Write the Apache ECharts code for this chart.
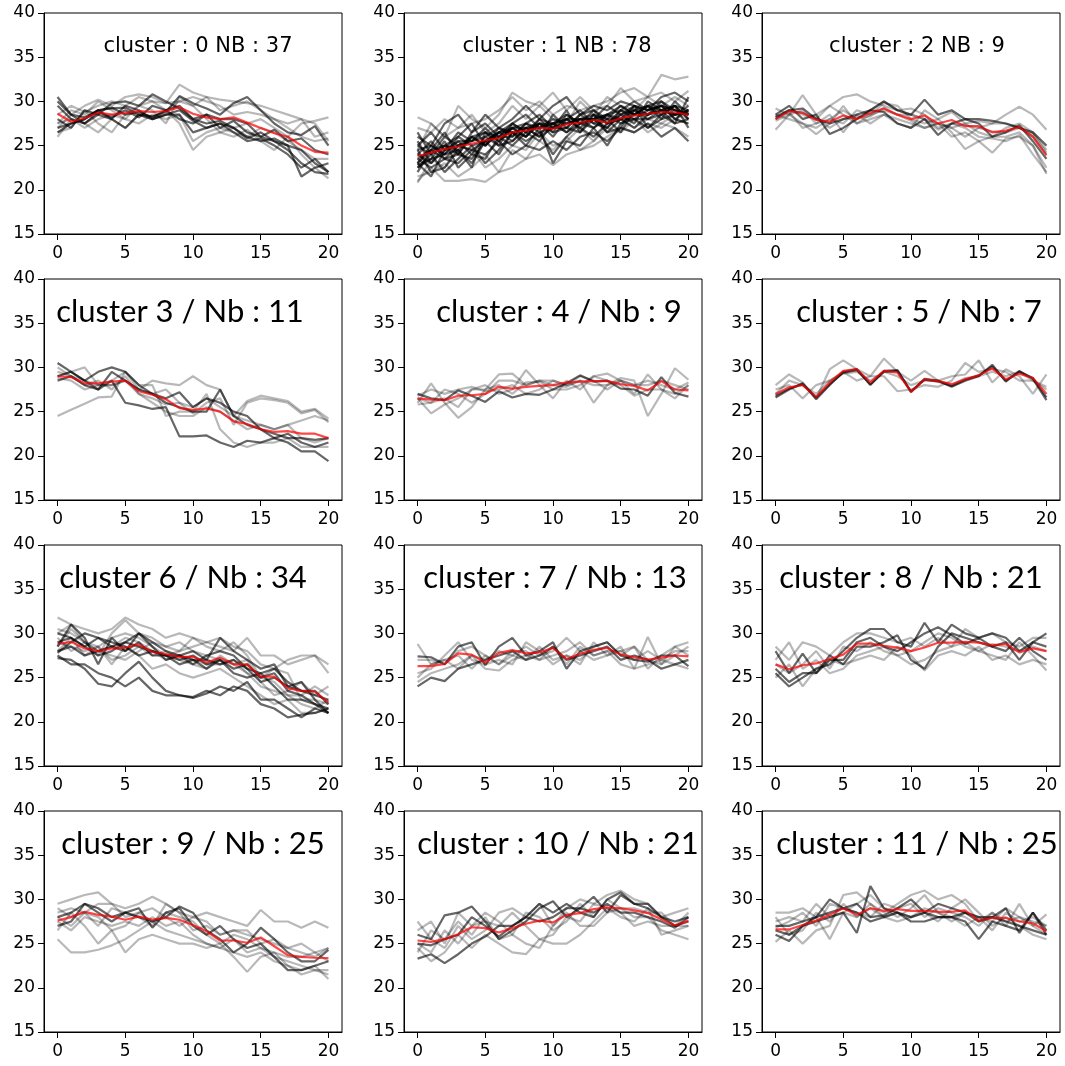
<!DOCTYPE html>
<html><head><meta charset="utf-8">
<script src="https://cdn.jsdelivr.net/npm/echarts@6/dist/echarts.min.js"></script>
<style>html,body{margin:0;padding:0;background:#fff}#c{width:1065px;height:1066px}</style>
</head><body><div id="c"></div>
<script>
// ---------- data ----------
const xTicks = [0, 5, 10, 15, 20];
const yTicks = [15, 20, 25, 30, 35, 40];
const titles = [
  "cluster : 0 NB : 37", "cluster : 1 NB : 78", "cluster : 2 NB : 9",
  "cluster 3 / Nb : 11", "cluster : 4 / Nb : 9", "cluster : 5 / Nb : 7",
  "cluster 6 / Nb : 34", "cluster : 7 / Nb : 13", "cluster : 8 / Nb : 21",
  "cluster : 9 / Nb : 25", "cluster : 10 / Nb : 21", "cluster : 11 / Nb : 25"
];

const mean0 = [28.6,27.7,28.1,28.75,28.5,28.7,28.9,28.8,28.9,29.35,28.6,28.2,28.0,28.2,27.6,27.0,26.4,26.0,25.0,24.3,24.2];
const lines0 = [
  [30.5,28.5,28.2,29.0,29.2,29.3,28.5,28.3,28.8,30.6,29.8,29.2,28.5,29.8,30.5,29.0,27.5,26.5,26.2,27.2,25.0],
  [26.5,27.5,28.0,29.0,29.3,28.5,28.8,28.2,29.0,29.5,28.0,27.5,27.8,27.0,25.8,26.5,25.5,24.5,23.0,22.0,21.8],
  [29.5,28.0,27.5,28.5,28.0,29.5,29.0,28.0,28.5,28.5,26.5,27.0,27.5,27.0,26.0,25.5,25.8,25.0,21.5,22.5,23.0],
  [28.0,27.0,29.0,28.5,29.8,30.0,29.5,30.8,30.0,29.2,28.0,28.5,27.0,27.8,26.5,26.0,25.5,25.0,24.5,23.0,22.0],
  [30.0,28.5,27.5,28.8,28.2,29.0,28.2,29.5,29.0,28.0,27.5,28.5,28.0,28.0,27.5,26.0,26.8,25.5,25.8,24.5,24.0],
  [27.0,27.5,28.0,29.0,28.0,27.0,28.5,28.0,28.5,29.0,27.8,27.0,27.5,26.5,25.5,25.8,25.0,24.0,22.5,23.5,22.0],
  [27.0,28.5,29.5,30.2,29.5,30.5,30.8,30.5,29.8,31.9,31.0,30.5,30.2,30.0,29.8,29.5,29.0,28.5,28.0,27.5,25.5],
  [26.0,28.0,27.5,26.5,28.0,27.0,28.5,28.0,29.0,27.5,24.5,26.0,26.5,27.0,27.5,28.0,27.0,26.0,27.5,27.8,28.2],
  [27.5,29.0,28.5,30.0,29.0,28.0,29.5,29.0,27.5,30.5,29.5,28.0,26.5,26.0,26.8,25.5,24.5,26.0,24.0,22.5,21.3],
  [26.5,27.0,29.0,27.5,26.5,28.5,29.5,30.0,29.0,30.0,30.5,30.0,29.5,28.5,28.8,28.5,28.0,27.0,26.0,25.5,25.8],
  [28.5,29.5,28.8,29.5,30.0,29.5,30.5,30.0,29.8,30.0,29.5,30.5,29.0,29.5,30.0,29.0,28.0,27.5,28.0,26.0,26.5],
  [27.5,28.0,27.0,28.0,28.5,28.0,27.5,28.5,28.0,28.5,25.5,26.5,27.0,26.5,26.0,27.0,26.5,25.5,24.5,23.5,23.5]
];

const mean1 = [23.8,24.2,24.6,24.9,25.2,25.6,25.85,26.5,26.7,27.0,26.9,27.4,27.6,27.9,27.6,28.1,28.4,28.6,28.8,28.75,28.5];
const lines1 = [
  [24.0,23.0,24.5,25.0,25.5,26.0,27.0,26.5,27.0,27.5,27.0,27.5,28.0,28.5,27.5,28.5,29.5,29.0,29.5,29.0,28.5],
  [23.5,24.5,25.0,24.5,26.0,26.5,25.5,27.0,27.5,27.0,28.0,27.5,28.0,28.0,28.5,29.0,28.5,29.5,29.0,29.5,29.0],
  [24.5,25.0,24.0,26.0,25.0,25.5,26.5,27.5,26.5,28.0,26.5,28.5,27.5,29.0,27.5,28.0,29.0,29.5,30.0,28.5,29.0],
  [22.5,23.5,24.0,25.5,25.5,26.5,26.0,26.0,27.5,26.5,27.0,27.0,28.5,27.5,27.0,28.5,29.0,28.0,28.5,29.5,28.0],
  [25.0,24.0,26.0,25.0,24.5,25.5,26.0,27.0,27.0,27.0,27.5,28.0,27.0,28.5,28.0,28.0,28.0,29.0,29.5,29.0,28.5],
  [23.0,24.5,23.5,24.0,26.0,25.0,26.5,26.5,26.0,27.5,27.5,26.5,28.0,28.0,28.5,29.5,28.5,28.5,29.0,28.5,29.5],
  [22.5,24.0,22.0,23.5,25.0,23.0,24.5,26.5,25.0,27.0,23.0,25.5,25.0,27.0,25.0,27.5,28.0,27.0,28.5,27.5,28.0],
  [25.5,23.0,25.0,24.0,26.5,27.5,26.0,27.5,28.5,27.0,27.5,28.5,27.5,28.0,27.0,29.0,30.0,29.0,29.5,28.0,29.0],
  [23.0,21.5,24.5,25.5,24.0,26.0,25.0,25.5,27.0,26.0,28.5,27.0,26.5,28.5,26.5,28.0,27.0,28.5,29.0,29.5,28.0],
  [24.0,25.5,23.5,25.0,26.0,25.0,27.0,26.0,27.5,28.5,27.0,28.0,29.0,27.5,28.5,28.0,29.5,28.5,30.0,29.0,28.5],
  [22.0,24.5,26.5,24.0,23.5,25.5,26.5,27.0,26.0,27.5,26.5,27.0,28.5,29.0,28.0,29.5,28.5,29.5,28.5,29.5,27.0],
  [25.0,26.5,24.5,26.5,25.5,27.0,25.5,27.0,26.0,28.0,27.5,26.5,27.5,27.0,28.5,27.5,28.5,29.5,28.0,28.5,29.0],
  [22.8,23.5,25.5,22.5,24.0,23.5,26.0,25.0,26.5,25.5,27.5,28.0,27.0,26.0,27.5,29.0,28.0,28.0,29.0,28.5,28.8],
  [23.0,25.0,24.0,24.5,22.5,26.5,25.0,27.5,26.5,27.5,26.0,28.0,28.0,27.0,28.0,26.5,29.0,28.5,29.5,28.0,27.5],
  [24.5,22.0,22.5,24.5,23.0,25.5,24.0,26.5,25.5,26.5,24.0,26.0,27.5,28.0,26.5,27.0,29.5,27.0,28.0,30.0,28.5],
  [26.5,24.0,25.0,26.0,27.5,25.0,26.5,25.5,27.0,26.0,27.0,29.0,26.5,28.0,29.5,28.5,27.5,30.0,29.0,27.5,30.5],
  [26.0,25.0,27.5,28.5,26.5,28.5,27.0,28.0,29.5,28.0,29.5,30.5,28.5,29.5,29.0,30.0,29.5,29.0,30.5,31.0,30.0],
  [23.5,22.5,23.5,23.0,24.5,24.0,25.5,24.0,25.0,24.5,25.5,24.5,26.0,26.5,25.5,27.0,26.5,27.5,26.0,27.0,25.5],
  [20.8,23.5,22.5,25.0,24.5,22.5,23.5,25.0,24.5,26.5,25.0,25.5,27.0,25.5,27.5,28.0,27.0,28.0,27.5,28.5,28.0],
  [21.0,22.5,21.0,21.0,21.2,20.9,22.0,22.5,23.5,24.0,22.8,24.0,24.5,25.0,26.0,27.0,26.5,27.5,27.0,28.0,27.5],
  [28.2,27.5,26.0,27.0,27.5,28.0,29.0,30.5,29.0,30.0,28.5,29.5,29.0,29.5,30.0,31.0,31.5,30.5,33.0,32.5,32.8],
  [24.5,27.5,26.0,29.5,28.0,27.0,28.5,31.0,30.0,29.5,31.0,29.0,30.5,29.0,29.5,31.5,30.0,30.5,31.0,30.0,31.2],
  [27.0,26.5,28.0,27.0,28.5,26.5,27.5,29.5,28.0,29.5,28.0,27.5,30.0,28.5,30.5,29.5,29.0,30.5,29.5,30.5,29.5],
  [21.5,22.0,23.0,21.5,22.5,24.0,22.0,24.5,23.5,25.5,24.5,26.0,24.5,25.5,27.0,26.5,28.0,26.5,27.5,27.0,26.0]
];

const mean2 = [28.0,28.9,28.7,27.9,27.7,28.4,28.0,28.7,29.2,28.5,28.0,28.4,27.5,27.9,27.2,27.2,26.5,26.7,27.1,26.0,23.9];
const lines2 = [
  [28.2,29.0,29.2,28.0,27.5,28.0,28.5,29.0,30.0,29.0,28.5,30.2,28.5,29.0,28.0,28.0,27.8,27.5,27.0,26.5,25.0],
  [28.5,29.5,28.0,28.5,26.3,27.0,28.0,29.0,28.8,27.5,27.0,28.0,26.2,27.5,28.0,27.5,26.0,26.5,27.3,25.5,23.5],
  [26.8,28.5,30.7,28.5,29.5,30.5,30.8,30.0,29.5,29.0,28.5,28.0,27.5,27.0,26.0,27.0,27.5,28.5,29.4,28.5,26.8],
  [29.2,28.5,27.5,26.3,27.5,29.5,27.5,28.5,29.8,29.5,28.0,27.5,28.0,26.5,24.6,25.5,24.2,25.8,26.0,25.0,21.8],
  [28.0,28.8,27.0,27.5,28.5,26.5,28.5,27.5,28.5,28.0,27.5,27.0,27.5,26.0,26.5,25.5,26.0,26.0,26.5,25.0,22.5],
  [28.5,28.0,27.5,27.0,28.0,29.0,28.0,29.0,30.0,29.0,29.2,28.5,27.0,27.5,27.0,26.0,25.8,25.5,26.2,24.0,22.0],
  [28.0,29.0,28.5,28.0,29.5,28.5,27.5,28.0,28.5,27.5,27.0,29.0,28.0,28.8,27.5,27.8,27.5,27.5,27.0,26.0,24.0],
  [27.8,28.5,29.0,27.5,28.0,27.5,29.0,28.5,29.0,28.5,27.8,27.0,27.5,27.0,27.5,26.5,26.0,27.0,27.5,26.5,24.5],
  [28.3,29.0,28.7,28.2,27.0,28.0,28.2,28.3,29.3,28.5,28.5,28.0,26.8,27.5,27.3,27.0,26.6,26.5,27.0,26.3,24.2]
];

const mean3 = [29.0,28.9,28.2,28.2,28.4,28.5,27.3,26.9,26.4,25.4,25.2,25.35,25.0,23.9,23.6,23.0,22.7,22.8,22.5,22.5,22.0];
const lines3 = [
  [30.5,29.5,28.5,29.5,30.0,29.5,28.0,27.0,26.5,27.2,25.5,26.5,26.0,25.0,24.5,23.0,22.5,22.0,22.0,21.8,22.0],
  [29.0,29.5,28.5,27.5,28.5,26.0,25.7,25.3,25.5,22.2,22.2,22.3,21.5,21.0,21.7,21.5,22.0,21.5,20.5,20.5,19.4],
  [28.5,29.0,28.0,27.5,29.5,28.5,27.5,27.0,26.0,25.5,25.0,25.0,27.5,24.5,23.5,23.0,22.0,22.5,21.5,21.0,21.5],
  [24.5,25.2,25.9,26.6,26.7,29.5,27.5,28.5,28.2,28.0,29.0,28.0,27.5,24.5,26.2,26.8,26.5,26.2,25.0,25.3,24.2],
  [29.0,29.5,30.0,28.0,28.5,29.5,28.0,28.0,24.5,25.0,25.0,27.0,23.0,21.5,21.0,21.5,21.5,22.0,21.0,21.0,21.0],
  [30.0,29.0,28.0,28.5,27.5,29.0,27.0,26.5,25.8,26.0,25.5,26.5,25.5,24.5,24.0,23.5,23.0,23.5,24.0,24.5,24.0],
  [28.8,28.5,27.5,28.0,28.0,28.5,27.5,27.0,27.5,26.0,24.8,26.0,26.5,23.5,26.0,26.5,26.3,26.0,24.8,25.2,23.8],
  [29.5,29.0,28.5,28.0,28.0,28.5,27.0,26.0,25.0,24.5,24.5,25.5,25.0,24.0,23.0,23.5,23.0,23.5,22.0,21.5,22.0]
];

const mean4 = [26.5,26.35,26.3,26.8,26.85,27.0,27.8,27.6,27.8,27.9,28.0,28.3,28.4,28.45,28.45,28.1,27.9,27.4,28.45,27.5,27.4];
const lines4 = [
  [27.0,26.5,26.3,27.4,26.8,26.1,27.3,26.6,27.0,26.9,27.5,28.2,29.1,28.4,28.5,27.6,27.5,26.8,28.9,27.1,26.7],
  [26.0,28.2,26.0,24.3,25.5,27.5,29.2,29.3,28.0,28.5,28.5,28.0,28.5,26.0,28.0,28.8,28.5,24.5,27.0,29.9,28.6],
  [26.5,24.8,25.8,26.5,27.5,28.0,27.0,27.5,29.7,28.0,26.5,28.5,27.5,29.0,29.3,28.5,27.0,29.2,27.5,26.5,28.0],
  [25.8,26.0,27.5,27.0,26.0,27.0,28.5,28.5,28.0,28.5,28.0,27.8,28.5,28.0,28.0,28.5,28.0,28.0,28.5,28.0,27.5],
  [26.5,26.0,26.5,25.5,27.5,27.5,28.0,27.0,28.3,28.4,27.5,27.5,28.0,29.0,28.5,28.0,26.8,27.5,27.5,27.0,28.0],
  [26.8,27.5,27.0,27.5,27.8,27.3,27.5,28.0,27.0,27.5,28.5,28.0,29.0,28.5,27.5,28.5,28.0,28.5,28.0,27.5,28.3]
];

const mean5 = [27.0,27.75,28.0,26.65,28.3,29.6,29.8,28.3,29.6,29.4,27.25,28.65,28.45,28.1,28.65,29.1,29.9,28.65,29.3,28.8,27.0];
const lines5 = [
  [26.6,27.5,28.2,26.4,28.0,29.5,29.8,28.0,29.6,29.7,27.2,28.7,28.5,27.8,28.5,29.0,30.3,28.4,29.6,28.7,26.3],
  [26.8,27.6,28.1,26.6,28.1,29.4,29.7,28.1,29.5,29.6,27.3,28.6,28.4,27.9,28.6,29.1,30.1,28.5,29.5,28.8,26.6],
  [28.0,29.2,28.3,26.5,29.8,30.8,29.8,29.0,31.0,29.5,28.5,29.6,28.5,29.0,29.2,30.8,28.3,29.8,29.0,27.0,29.2],
  [27.5,28.0,26.5,28.0,28.5,29.5,28.5,29.0,29.0,27.3,27.5,28.0,27.8,28.5,30.5,29.5,29.8,29.5,28.5,28.5,27.5],
  [27.0,28.5,28.0,27.0,28.5,29.3,29.5,28.5,29.5,29.0,28.0,28.5,28.5,28.0,28.8,29.0,29.5,29.0,29.5,28.5,27.8]
];

const mean6 = [28.8,29.05,28.3,28.0,28.3,28.4,28.75,27.9,27.65,27.35,27.35,26.7,27.25,26.5,26.5,25.1,25.1,23.8,23.5,23.4,22.2];
const lines6 = [
  [28.0,28.5,27.5,28.0,28.5,28.0,29.0,27.5,27.5,27.0,27.5,26.5,27.0,26.0,26.5,25.0,25.5,23.5,23.0,22.0,21.5],
  [29.0,29.5,28.5,27.5,28.0,29.0,28.5,28.0,27.5,27.5,27.0,27.0,26.5,27.0,26.0,24.5,25.0,24.0,23.5,23.5,22.0],
  [27.2,27.0,26.0,24.3,24.0,25.5,26.8,25.0,23.5,23.0,22.7,23.2,24.0,23.5,24.5,22.5,22.5,21.5,20.5,21.5,21.0],
  [27.5,26.5,26.5,25.5,25.0,24.0,25.0,23.5,23.0,23.0,22.8,23.5,23.0,24.0,23.5,22.0,21.5,20.5,20.8,21.0,21.5],
  [28.5,31.0,29.5,26.5,29.5,28.0,30.0,29.0,28.0,27.5,28.0,27.0,29.5,28.0,27.0,26.0,26.5,24.0,24.5,22.5,21.0],
  [30.0,29.5,28.5,29.5,29.0,28.5,27.5,28.0,27.5,26.5,27.0,26.0,27.0,25.5,25.0,25.5,24.0,22.5,22.5,22.0,21.0],
  [27.8,29.0,30.0,29.5,28.5,29.0,30.0,28.5,27.0,27.5,26.5,27.5,28.0,27.5,26.0,25.5,26.0,24.5,23.5,23.0,22.5],
  [31.8,31.0,29.0,27.5,30.0,31.5,30.0,29.5,28.5,28.0,28.5,29.0,29.5,28.5,28.0,26.5,26.0,27.0,27.5,27.5,26.5],
  [30.5,30.0,29.0,28.5,29.5,30.0,29.5,28.5,27.5,28.0,29.5,28.5,28.0,29.0,27.5,25.0,26.0,25.5,22.5,22.5,22.0],
  [29.0,28.5,28.0,28.5,27.0,27.5,28.5,27.5,28.0,27.0,26.5,26.0,27.5,26.5,25.5,24.0,23.5,23.0,23.0,24.0,23.0],
  [30.0,31.0,30.5,30.0,30.5,31.8,31.0,30.5,29.5,30.0,29.5,29.0,28.5,28.0,29.5,27.5,27.5,26.5,27.0,27.5,25.5],
  [28.0,29.5,27.5,28.5,26.5,28.5,27.5,26.0,26.5,25.5,25.0,25.5,26.0,25.0,24.0,23.0,22.0,22.5,21.0,21.0,21.5],
  [29.5,28.0,29.0,28.0,27.5,27.0,28.0,29.0,28.5,29.0,28.0,27.5,27.0,26.5,27.0,24.5,23.0,23.5,24.5,23.0,24.0],
  [28.5,30.5,29.0,28.0,28.5,29.5,29.0,28.0,27.0,27.5,27.0,26.5,26.5,27.0,25.5,25.0,24.5,23.0,22.0,21.5,22.5]
];

const mean7 = [26.3,26.3,26.55,27.75,27.6,26.7,27.8,28.1,27.75,27.85,28.35,27.1,27.7,28.15,28.35,27.6,27.3,27.05,27.25,27.5,27.4];
const lines7 = [
  [27.4,27.3,26.5,28.5,29.0,26.4,28.5,29.5,27.5,28.0,29.0,26.0,28.0,28.5,29.0,27.5,27.0,26.8,27.5,27.5,26.3],
  [24.0,25.0,24.6,26.0,26.5,27.0,27.5,28.0,27.0,27.5,28.5,27.0,27.5,28.0,28.5,27.0,27.5,27.0,26.0,26.5,27.0],
  [28.8,26.5,27.0,27.5,26.0,27.5,26.5,27.5,28.5,27.5,28.0,29.5,28.0,27.0,27.5,28.0,28.5,27.0,26.5,28.5,29.0],
  [25.5,26.0,27.5,29.0,27.0,26.5,27.0,26.5,29.0,28.0,26.5,27.5,26.5,29.0,27.5,28.5,26.0,29.6,26.5,27.5,28.5],
  [24.5,25.5,26.0,26.5,27.5,26.0,25.8,27.0,27.5,27.0,28.5,26.5,28.5,27.5,28.0,26.5,26.0,26.5,27.0,28.0,28.0],
  [25.0,26.5,27.0,26.0,27.5,27.0,28.0,27.5,27.0,28.5,27.0,27.5,27.0,28.5,29.0,27.5,28.5,26.0,27.5,28.5,27.5],
  [27.0,27.0,26.5,28.0,28.5,27.5,26.5,28.0,28.0,27.0,27.5,28.0,29.0,27.5,28.0,28.0,27.0,28.0,27.0,26.5,26.0]
];

const mean8 = [26.5,25.95,26.4,26.6,27.1,27.6,28.85,28.85,28.6,28.4,28.0,28.4,28.95,28.95,29.05,28.95,28.65,28.8,27.85,28.3,28.0];
const lines8 = [
  [26.0,24.5,25.5,25.5,27.5,26.5,28.5,28.5,29.0,29.8,27.0,26.0,28.5,30.0,29.5,29.0,28.5,29.0,27.0,29.0,30.0],
  [28.0,25.5,27.7,25.5,27.0,27.0,29.0,29.5,28.5,28.0,29.0,30.0,30.7,29.8,28.8,29.5,28.5,28.0,29.5,28.0,27.0],
  [25.5,24.0,25.0,26.0,26.5,28.0,29.5,30.5,30.5,29.0,28.5,31.2,29.0,31.0,30.0,29.5,30.0,29.5,28.0,29.0,28.5],
  [27.0,29.0,26.0,27.0,25.5,26.0,27.5,28.0,28.5,27.5,26.5,27.0,28.0,28.5,29.0,28.0,27.5,27.0,29.0,27.5,25.8],
  [28.5,27.0,29.0,28.5,27.5,29.0,30.0,30.0,29.5,29.0,29.5,28.5,29.5,28.5,30.5,29.5,30.0,29.0,28.5,29.5,29.5],
  [25.0,26.5,24.0,26.0,27.0,26.5,27.0,27.5,27.0,28.5,27.5,25.8,27.5,28.0,27.5,28.5,27.0,27.5,26.5,27.0,26.5],
  [26.5,25.5,26.5,28.0,26.0,28.5,28.0,29.0,28.0,27.5,28.0,29.0,30.0,29.5,28.5,28.0,28.8,28.5,28.0,28.5,28.0]
];

const mean9 = [27.6,28.0,28.6,28.25,28.05,27.7,28.05,27.7,27.9,27.7,27.1,26.4,25.35,25.35,25.1,25.7,24.7,23.7,23.5,23.4,23.35];
const lines9 = [
  [28.0,28.5,29.5,29.0,28.0,28.5,28.0,27.5,28.0,29.2,28.5,26.5,25.5,24.0,25.0,26.8,25.5,24.0,23.0,23.0,24.3],
  [27.0,27.5,29.5,28.5,27.5,28.5,29.0,26.8,28.5,29.0,27.0,26.0,27.0,25.5,24.5,25.0,23.5,22.0,22.0,22.5,23.0],
  [25.5,24.0,24.0,24.3,24.8,25.5,26.5,27.5,26.5,26.0,25.5,25.0,24.5,24.0,23.5,24.0,23.0,22.5,22.0,22.5,21.0],
  [29.5,30.0,30.5,30.8,29.5,29.0,29.5,30.3,29.5,28.5,28.0,28.5,28.0,27.5,27.0,28.8,27.5,27.5,26.8,27.5,26.8],
  [26.5,28.5,27.0,25.0,26.5,24.0,25.5,26.0,25.5,25.0,25.0,24.5,25.0,23.5,21.8,23.5,24.0,22.5,21.5,22.0,22.0],
  [28.5,29.0,28.5,29.5,29.5,28.0,28.5,29.0,28.0,27.0,28.0,27.5,26.0,26.5,26.0,25.5,25.0,24.5,24.0,23.5,24.5],
  [27.5,26.5,28.0,27.5,27.0,27.5,27.0,28.0,27.0,27.5,26.0,25.0,24.5,25.5,24.0,24.5,23.5,23.0,22.5,22.0,21.5],
  [29.0,28.0,28.5,27.0,29.0,28.5,28.0,27.0,29.5,28.5,26.5,27.0,26.0,26.5,26.5,25.0,25.5,24.5,25.0,24.0,24.5],
  [28.0,27.0,28.5,28.0,26.5,27.0,28.5,27.5,28.5,28.0,27.5,26.0,25.0,26.0,25.5,24.5,24.0,23.5,23.5,24.0,23.0]
];

const mean10 = [25.35,25.2,25.5,26.05,26.85,26.75,26.25,26.75,27.25,27.6,27.4,28.25,28.45,28.9,29.1,29.0,28.75,28.45,27.75,27.05,27.6];
const lines10 = [
  [26.0,25.5,28.2,28.5,29.2,27.5,25.5,26.5,27.5,29.0,29.8,28.0,29.0,30.3,28.5,30.5,29.5,29.5,28.0,27.5,28.0],
  [23.3,23.8,22.8,23.8,25.0,25.8,27.0,27.0,28.0,29.5,28.5,29.5,28.5,28.0,30.0,30.8,29.5,29.0,28.0,27.0,27.5],
  [25.0,24.8,25.5,26.0,28.0,27.0,25.8,27.0,28.0,27.5,28.0,29.0,29.0,28.5,29.5,28.5,28.5,28.0,27.5,26.8,28.0],
  [27.5,25.5,24.5,27.0,25.5,26.5,28.5,29.0,28.0,29.5,27.0,29.0,30.0,29.5,30.5,31.0,30.0,29.5,28.0,28.5,29.0],
  [24.5,23.0,24.0,26.0,24.5,26.0,25.0,24.0,23.8,25.5,25.0,25.0,26.0,27.5,29.0,28.5,27.0,27.5,27.0,27.0,27.0],
  [25.0,24.0,26.5,25.0,27.0,28.5,27.5,26.0,25.0,24.5,27.0,28.5,27.0,27.0,28.5,29.0,28.0,28.0,26.5,26.0,25.5],
  [24.0,26.5,25.5,27.5,26.0,28.0,25.5,26.0,28.5,28.0,26.5,27.5,29.5,28.0,30.0,29.0,29.0,28.5,28.5,27.0,28.5],
  [26.5,27.5,25.0,28.5,27.0,27.5,27.0,28.5,27.0,25.5,26.0,28.0,27.5,29.5,29.0,28.0,27.5,29.0,26.0,26.5,27.0]
];

const mean11 = [26.6,26.6,27.1,27.6,28.25,29.0,28.25,29.0,28.7,28.9,28.7,28.7,28.6,28.6,28.75,27.6,27.9,27.9,27.5,27.3,26.4];
const lines11 = [
  [26.5,26.0,27.0,27.5,28.0,28.5,26.2,31.5,29.0,28.5,28.0,28.5,28.0,28.0,27.5,25.5,27.5,27.0,26.5,28.5,26.5],
  [27.0,27.0,27.5,28.0,30.0,29.0,28.5,27.5,28.0,28.5,27.5,27.5,28.0,28.0,28.5,28.0,28.0,29.0,26.2,28.5,26.0],
  [26.0,25.3,27.0,28.0,28.5,29.0,29.5,28.0,28.2,29.0,30.0,28.5,29.5,29.0,28.5,27.5,28.0,27.5,27.0,26.5,26.0],
  [28.5,28.5,29.0,28.0,25.5,28.5,29.5,30.5,29.0,28.0,29.0,30.5,28.5,27.5,28.5,28.0,27.5,29.0,28.0,27.0,28.3],
  [25.2,26.5,25.0,26.5,27.0,30.5,30.8,29.5,28.5,29.5,30.5,31.0,30.0,30.5,29.5,27.5,28.5,27.0,29.5,27.0,26.0],
  [27.5,28.0,27.5,29.5,28.0,28.5,28.0,29.0,28.0,27.5,28.0,28.5,27.5,29.0,30.0,28.5,27.0,28.0,27.0,26.0,25.5],
  [26.8,27.5,28.5,27.0,29.5,29.0,28.5,28.0,29.5,29.0,29.5,28.0,29.0,28.5,28.0,27.0,28.5,27.5,28.0,27.5,27.0],
  [28.0,26.0,26.5,28.5,27.5,29.5,28.0,29.5,28.0,28.5,28.0,29.0,28.5,28.0,27.0,28.0,26.5,28.5,27.5,28.0,27.0]
];

const means = [mean0,mean1,mean2,mean3,mean4,mean5,mean6,mean7,mean8,mean9,mean10,mean11];
const lineSets = [lines0,lines1,lines2,lines3,lines4,lines5,lines6,lines7,lines8,lines9,lines10,lines11];

// ---------- styles / layout ----------
const darkCount = [6, 18, 2, 3, 1, 2, 7, 2, 3, 2, 3, 3];
const colLeft = [44, 404, 762];
const rowTop = [13, 279, 545, 811];
const titleCx = [193, 552, 912, 175, 554, 914, 178, 550, 906, 188, 553, 912];
const GW = 298, GH = 221;
const tickFont = 'DejaVu Sans';

const chart = echarts.init(document.getElementById('c'), null, {renderer: 'canvas'});
const grid = [], xAxis = [], yAxis = [], series = [], title = [];
for (let k = 0; k < 12; k++) {
  const r = Math.floor(k / 3), c = k % 3;
  grid.push({left: colLeft[c], top: rowTop[r], width: GW, height: GH,
    show: true, borderColor: '#000', borderWidth: 1, backgroundColor: '#fff'});
  xAxis.push({type: 'value', gridIndex: k, min: -1, max: 21,
    axisLine: {show: true, onZero: false, lineStyle: {color: '#000', width: 1}},
    axisTick: {show: true, length: 6, customValues: xTicks, lineStyle: {color: '#000'}},
    axisLabel: {customValues: xTicks, color: '#000', fontFamily: tickFont, fontSize: 17, margin: 11},
    splitLine: {show: false}});
  yAxis.push({type: 'value', gridIndex: k, min: 15, max: 40, interval: 5,
    axisLine: {show: true, onZero: false, lineStyle: {color: '#000', width: 1}},
    axisTick: {show: true, length: 6, lineStyle: {color: '#000'}},
    axisLabel: {color: '#000', fontFamily: tickFont, fontSize: 17, margin: 9},
    splitLine: {show: false}});
  const big = r > 0;
  title.push({text: titles[k],
    left: titleCx[k], textAlign: 'center',
    top: big ? rowTop[r] + 12 : rowTop[r] + 18,
    textStyle: big ? {fontFamily: 'Lato', fontWeight: 'normal', fontSize: 31, color: '#000'}
                   : {fontFamily: 'DejaVu Sans', fontWeight: 'normal', fontSize: 21, color: '#000'}});
  lineSets[k].forEach((arr, j) => {
    series.push({type: 'line', xAxisIndex: k, yAxisIndex: k, symbol: 'none', silent: true,
      data: arr.map((v, i) => [i, v]),
      lineStyle: {color: '#000', width: 2.2, opacity: j < darkCount[k] ? 0.6 : 0.28}});
  });
  series.push({type: 'line', xAxisIndex: k, yAxisIndex: k, symbol: 'none', silent: true, z: 5,
    data: means[k].map((v, i) => [i, v]),
    lineStyle: {color: '#ff0000', width: 2.2, opacity: 0.72}});
}
chart.setOption({animation: false, backgroundColor: '#fff', grid, xAxis, yAxis, series, title});
</script></body></html>
